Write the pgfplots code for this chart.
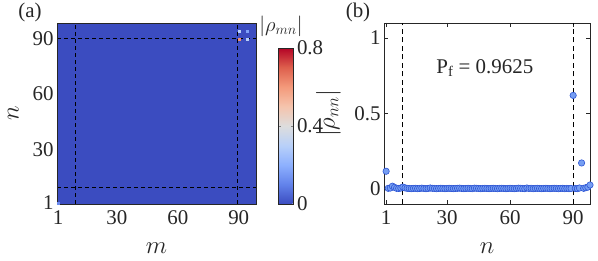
\documentclass[border=0pt]{standalone}
\usepackage{fontspec}
\setmainfont{Liberation Serif}
\usepackage{pgfplots}
\pgfplotsset{compat=1.18}
\definecolor{cfill}{RGB}{118,158,242}
\definecolor{cedge}{RGB}{45,85,212}
\definecolor{frame}{RGB}{38,38,38}
\pgfplotsset{
  colormap={coolwarm}{
    rgb255=(59,76,192) rgb255=(98,130,234) rgb255=(141,176,254)
    rgb255=(184,208,249) rgb255=(221,221,221) rgb255=(245,196,173)
    rgb255=(244,154,123) rgb255=(222,96,77) rgb255=(180,4,38)},
  every axis/.append style={
    tick label style={font=\fontsize{21}{21}\selectfont, text=frame},
    label style={font=\fontsize{24}{24}\selectfont, text=frame},
    /pgf/number format/assume math mode=true,
  }
}
\begin{document}
\begin{tikzpicture}
\useasboundingbox (0,0) rectangle (598bp,261bp);
% ---------------- panel (a)
\begin{axis}[
  at={(57bp,57bp)}, anchor=south west,
  scale only axis, width=199bp, height=181bp,
  xmin=0.5, xmax=98.5, ymin=0.5, ymax=98.5,
  xtick={1,30,60,90}, ytick={1,30,60,90},
  major tick length=0pt,
  xticklabel style={yshift=-3bp},
  axis on top,
  axis line style={draw=frame, line width=0.9bp},
  xlabel={$m$}, ylabel={$n$},
  xlabel style={at={(axis description cs:0.5,-0.245)}, anchor=center},
  ylabel style={at={(axis description cs:-0.22,0.5)}, anchor=center},
  colormap name=coolwarm,
  point meta min=0, point meta max=0.8,
  colorbar,
  colorbar style={
    at={(parent axis.south east)}, anchor=south west, xshift=14bp,
    scale only axis, width=15bp, height=156bp,
    ytick={0,0.4,0.8},
    yticklabel style={font=\fontsize{21}{21}\selectfont, text=frame,
      /pgf/number format/assume math mode=true},
    tick align=inside, major tick length=2.5bp,
    axis line style={draw=frame, line width=0.9bp},
  },
]
\addplot[surf, shader=flat corner, mesh/cols=2, mesh/rows=2, point meta=explicit] coordinates {
  (0.5,0.5) [0.0] (98.5,0.5) [0.0]
  (0.5,98.5) [0.0] (98.5,98.5) [0.0]
};
\addplot[scatter, only marks, mark=square*, mark size=1.0bp, point meta=explicit,
  scatter/use mapped color={draw=mapped color, fill=mapped color}]
  table[meta=c] {
x y c
1 1 0.12
90 90 0.62
94 94 0.17
90 94 0.30
94 90 0.30
};
\addplot[black, line width=0.9bp, dash pattern=on 4bp off 3bp] coordinates {(9.5,0.5) (9.5,98.5)};
\addplot[black, line width=0.9bp, dash pattern=on 4bp off 3bp] coordinates {(89.5,0.5) (89.5,98.5)};
\addplot[black, line width=0.9bp, dash pattern=on 4bp off 3bp] coordinates {(0.5,9.5) (98.5,9.5)};
\addplot[black, line width=0.9bp, dash pattern=on 4bp off 3bp] coordinates {(0.5,90) (98.5,90)};
\end{axis}
\node[font=\fontsize{20}{20}\selectfont, text=frame] at (281bp,235bp) {$|\rho_{mn}|$};
\node[font=\fontsize{21}{21}\selectfont, text=frame] at (30bp,249bp) {(a)};
% ---------------- panel (b)
\begin{axis}[
  at={(384bp,57bp)}, anchor=south west,
  scale only axis, width=206bp, height=181bp,
  xmin=0, xmax=98, ymin=-0.1, ymax=1.1,
  xtick={1,30,60,90}, ytick={0,0.5,1},
  tick align=inside, major tick length=4bp,
  xticklabel style={yshift=-3bp},
  tick style={draw=frame, line width=0.8bp},
  axis line style={draw=frame, line width=0.9bp},
  clip=false,
  xlabel={$n$}, ylabel={$|\rho_{nn}|$},
  xlabel style={at={(axis description cs:0.5,-0.245)}, anchor=center},
  ylabel style={at={(axis description cs:-0.27,0.5)}, anchor=center},
]
\addplot[black, line width=0.9bp, dash pattern=on 5bp off 3.5bp] coordinates {(9,-0.1) (9,1.1)};
\addplot[black, line width=0.9bp, dash pattern=on 5bp off 3.5bp] coordinates {(90,-0.1) (90,1.1)};
\addplot[only marks, mark=*, mark size=3.2bp, mark options={fill=cfill, draw=cedge, line width=0.6bp}] table {
n r
1 0.117
2 0.004
3 0.006
4 0.018
5 0.010
6 0.004
7 0.003
8 0.006
9 0.012
10 0.007
11 0.004
12 0.003
13 0.002
14 0.003
15 0.004
16 0.002
17 0.003
18 0.005
19 0.003
20 0.002
21 0.003
22 0.006
23 0.004
24 0.003
25 0.002
26 0.003
27 0.004
28 0.003
29 0.002
30 0.003
31 0.004
32 0.003
33 0.002
34 0.003
35 0.004
36 0.005
37 0.003
38 0.002
39 0.003
40 0.004
41 0.003
42 0.002
43 0.005
44 0.004
45 0.003
46 0.002
47 0.003
48 0.004
49 0.003
50 0.002
51 0.003
52 0.004
53 0.003
54 0.002
55 0.003
56 0.004
57 0.003
58 0.002
59 0.003
60 0.004
61 0.003
62 0.002
63 0.003
64 0.005
65 0.004
66 0.003
67 0.002
68 0.006
69 0.003
70 0.004
71 0.002
72 0.003
73 0.004
74 0.003
75 0.002
76 0.003
77 0.004
78 0.003
79 0.002
80 0.003
81 0.004
82 0.003
83 0.002
84 0.003
85 0.004
86 0.002
87 0.003
88 0.002
89 0.003
90 0.620
91 0.003
92 0.002
93 0.006
94 0.172
95 0.004
96 0.008
97 0.012
98 0.026
};
\node[font=\fontsize{21}{21}\selectfont, text=frame] at (axis cs:48,0.80) {P\textsubscript{f} = 0.9625};
\end{axis}
\node[font=\fontsize{21}{21}\selectfont, text=frame] at (358bp,249bp) {(b)};
\end{tikzpicture}
\end{document}
